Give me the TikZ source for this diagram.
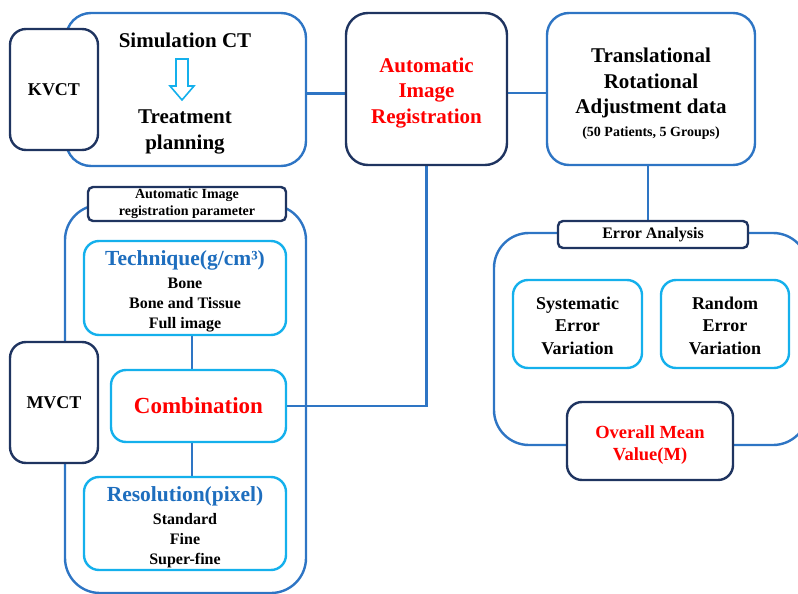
\documentclass[tikz,border=0pt]{standalone}
\usepackage{fontspec}
\setmainfont{Liberation Serif}
\usetikzlibrary{backgrounds}
\newcommand\fsz[2]{\fontsize{#1}{#2}\selectfont}
\newcommand\topstrut[1]{\rule{0pt}{#1pt}}
\definecolor{oblue}{RGB}{46,117,196}
\definecolor{lblue}{RGB}{20,176,236}
\definecolor{navy}{RGB}{31,52,96}
\definecolor{tblue}{RGB}{30,110,190}
\definecolor{rred}{RGB}{255,0,0}
\tikzset{
  bx/.style={draw, line width=2.4pt, inner sep=0pt, fill=white, align=center, font=\bfseries},
  outerbox/.style={bx, draw=oblue, rounded corners=#1},
  navybox/.style={bx, draw=navy, rounded corners=#1},
  lightbox/.style={bx, draw=lblue, rounded corners=#1},
  conn/.style={draw=oblue, line width=2.4pt},
}
\begin{document}
\begin{tikzpicture}[x=1pt,y=-1pt]
\useasboundingbox (0,0) rectangle (798,594);
% big container boxes
\node[outerbox=25pt, fill=none, minimum width=240pt, minimum height=153pt] (sim) at (186,89.5) {};
\node[outerbox=35pt, fill=none, minimum width=241pt, minimum height=388pt] (param) at (185.5,399) {};
\node[outerbox=35pt, fill=none, minimum width=314pt, minimum height=212pt] (ea) at (651,339) {};
% nodes
\node[navybox=16pt, minimum width=88pt, minimum height=121pt, font=\bfseries\fsz{18}{22}] (kv) at (54,89.5) {KVCT};
\node[font=\bfseries\fsz{21}{25}] (simtxt) at (185,40) {Simulation CT};
\node[font=\bfseries\fsz{21}{25.5}, align=center] (treat) at (185,132) {Treatment\\planning};
\coordinate (arw) at (182,59);
\draw[draw=lblue, line width=1.6pt, fill=white] ([shift={(-6,0)}]arw) -- ([shift={(6,0)}]arw) -- ([shift={(6,27)}]arw) -- ([shift={(12,27)}]arw) -- ([shift={(0,41)}]arw) -- ([shift={(-12,27)}]arw) -- ([shift={(-6,27)}]arw) -- cycle;

\node[navybox=22pt, minimum width=161pt, minimum height=152pt, font=\bfseries\fsz{21}{25.5}, text=rred] (air) at (426.5,89) {\topstrut{22}Automatic\\Image\\Registration};
\node[outerbox=22pt, minimum width=208pt, minimum height=152pt, font=\bfseries\fsz{21}{25.5}] (trans) at (651,89) {\topstrut{24}Translational\\Rotational\\Adjustment data\\[-2.5pt]{\fsz{14}{17}(50 Patients, 5 Groups)}};

\node[navybox=5pt, minimum width=198pt, minimum height=34pt, font=\bfseries\fsz{14}{17}] (plabel) at (187,204) {Automatic Image\\registration parameter};
\node[navybox=16pt, minimum width=88pt, minimum height=121pt, font=\bfseries\fsz{18}{22}] (mv) at (54,402.5) {MVCT};
\node[lightbox=15pt, minimum width=202pt, minimum height=94pt, font=\bfseries\fsz{16}{20}] (tech) at (185,288) {{\fsz{21.5}{20}\color{tblue}\topstrut{22}Technique(g/cm³)}\\[3pt]Bone\\Bone and Tissue\\Full image};
\node[lightbox=15pt, minimum width=175pt, minimum height=72pt, font=\bfseries\fsz{23}{26}, text=rred] (comb) at (198.5,406) {Combination};
\node[lightbox=15pt, minimum width=202pt, minimum height=93pt, font=\bfseries\fsz{16}{20}] (res) at (185,523.5) {{\fsz{21.5}{20}\color{tblue}\topstrut{22}Resolution(pixel)}\\[3pt]Standard\\Fine\\Super-fine};

\node[navybox=5pt, minimum width=190pt, minimum height=27pt, font=\bfseries\fsz{16}{20}] (ealabel) at (653,234.5) {Error Analysis};
\node[lightbox=15pt, minimum width=129pt, minimum height=88pt, font=\bfseries\fsz{18}{22.5}] (sys) at (577.5,324) {\topstrut{16}Systematic\\Error\\Variation};
\node[lightbox=15pt, minimum width=128pt, minimum height=88pt, font=\bfseries\fsz{18}{22.5}] (rnd) at (725,324) {\topstrut{16}Random\\Error\\Variation};
\node[navybox=15pt, minimum width=166pt, minimum height=78pt, font=\bfseries\fsz{18.5}{22.5}, text=rred] (mean) at (650,441) {\topstrut{21}Overall Mean\\Value(M)};
% connectors
\begin{scope}[on background layer]
\draw[conn] ([shift={(0,4)}]sim.east) -- ([shift={(0,4)}]sim.east -| air.west);
\draw[conn] ([shift={(0,4)}]air.east) -- ([shift={(0,4)}]air.east -| trans.west);
\draw[conn] ([xshift=-3pt]trans.south) -- ([xshift=-3pt]trans.south |- ealabel.north);
\draw[conn] (air.south) |- (comb.east);
\draw[conn] ([xshift=7pt]tech.south) -- ([xshift=7pt]tech.south |- comb.north);
\draw[conn] ([xshift=7pt]res.north) -- ([xshift=7pt]res.north |- comb.south);
\end{scope}
\end{tikzpicture}
\end{document}
